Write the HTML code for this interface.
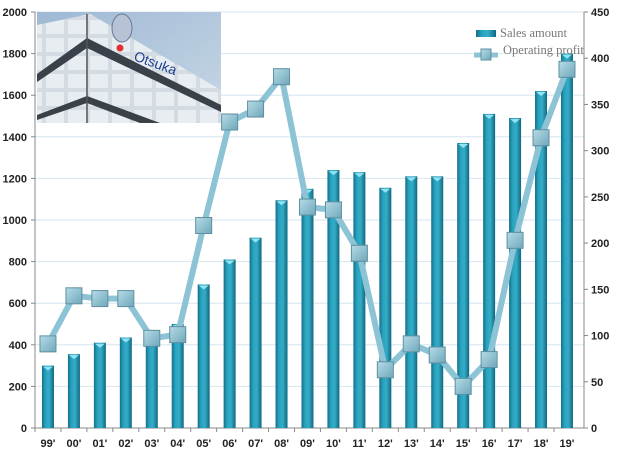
<!DOCTYPE html>
<html><head><meta charset="utf-8"><style>
html,body{margin:0;padding:0;background:#fff;width:620px;height:456px;overflow:hidden}
text{font-family:"Liberation Sans",sans-serif}
</style></head><body>
<svg id="s" width="620" height="456" xmlns="http://www.w3.org/2000/svg">
<defs>
<linearGradient id="bar" x1="0" x2="1" y1="0" y2="0">
<stop offset="0" stop-color="#13708a"/><stop offset="0.3" stop-color="#2aa3bf"/><stop offset="0.6" stop-color="#34acc6"/><stop offset="1" stop-color="#0f6781"/>
</linearGradient>
<linearGradient id="mk" x1="0" x2="1" y1="0" y2="1">
<stop offset="0" stop-color="#b6dbe6"/><stop offset="1" stop-color="#6fa8bb"/>
</linearGradient>
<linearGradient id="sky" x1="0" x2="1" y1="0" y2="1">
<stop offset="0" stop-color="#9fb9d4"/><stop offset="1" stop-color="#c7d7e6"/>
</linearGradient>
<pattern id="win" width="22" height="18" patternUnits="userSpaceOnUse">
<rect width="22" height="18" fill="#d4dbe2"/><rect x="2" y="2" width="18" height="14" fill="#e8edf1"/>
</pattern>
</defs>
<g id="g"></g>
</svg>
<script>
const g=document.getElementById('g');let h='';
const L=35,R=584,T=12,B=428,n=21,w=25.95;
const sales=[300,355,410,435,450,500,690,810,915,1095,1150,1240,1230,1155,1210,1210,1370,1510,1490,1620,1800];
const op=[91,143,140,140,97,101,219,331,345,380,239,236,189,63,91,79,45,74,203,314,388];
const labs=["99'","00'","01'","02'","03'","04'","05'","06'","07'","08'","09'","10'","11'","12'","13'","14'","15'","16'","17'","18'","19'"];
for(let i=0;i<=10;i++){const y=B-i*(B-T)/10;
 if(i>0)h+=`<line x1="${L}" x2="${R}" y1="${y}" y2="${y}" stroke="#d6e6ef" stroke-width="1"/>`;
 h+=`<line x1="${L-4}" x2="${L}" y1="${y}" y2="${y}" stroke="#888"/>`;
 h+=`<text x="${L-8}" y="${y+4}" text-anchor="end" font-size="11" font-weight="bold" fill="#222">${i*200}</text>`;}
for(let i=0;i<=9;i++){const y=B-i*(B-T)/9;
 h+=`<line x1="${R}" x2="${R+4}" y1="${y}" y2="${y}" stroke="#888"/>`;
 h+=`<text x="${R+7}" y="${y+4}" font-size="11" font-weight="bold" fill="#222">${i*50}</text>`;}
h+=`<line x1="${L}" x2="${L}" y1="${T}" y2="${B}" stroke="#888"/><line x1="${R}" x2="${R}" y1="${T}" y2="${B}" stroke="#888"/><line x1="${L}" x2="${R}" y1="${B}" y2="${B}" stroke="#888"/>`;
// photo
h+=`<rect x="37" y="12" width="184" height="111" fill="url(#sky)"/>
<polygon points="37,25 90,14 221,90 221,123 37,123" fill="url(#win)"/>
<polygon points="37,74 87,38 221,105 221,112 87,48 37,82" fill="#3b4148"/>
<polygon points="37,115 87,96 160,123 140,123 87,103 37,120" fill="#3b4148"/>
<line x1="87" y1="14" x2="87" y2="123" stroke="#555" stroke-width="1.5"/>
<ellipse cx="122" cy="28" rx="10" ry="14" fill="#b8c2d6" stroke="#6b7894"/>
<circle cx="120" cy="48" r="3.5" fill="#e23030"/>
<text x="133" y="60" font-size="14" fill="#1f3f8f" transform="rotate(20 133 60)">Otsuka</text>`;
for(let i=0;i<n;i++){const cx=L+w*(i+.5);
 h+=`<line x1="${L+w*i}" x2="${L+w*i}" y1="${B}" y2="${B+4}" stroke="#888"/>`;
 const y=B-sales[i]*(B-T)/2000,bw=12;
 h+=`<rect x="${cx-bw/2}" y="${y}" width="${bw}" height="${B-y}" fill="url(#bar)"/>`;
 h+=`<polygon points="${cx-bw/2+1},${y+1} ${cx+bw/2-1},${y+1} ${cx},${y+5}" fill="#8fe3f2"/>`;
 h+=`<text x="${cx}" y="${B+19}" text-anchor="middle" font-size="11" font-weight="bold" fill="#222">${labs[i]}</text>`;}
let pts=op.map((v,i)=>`${L+w*(i+.5)},${B-v*(B-T)/450}`).join(' ');
h+=`<polyline points="${pts}" fill="none" stroke="#8cc3d5" stroke-width="6" stroke-linejoin="round"/>`;
op.forEach((v,i)=>{const x=L+w*(i+.5),y=B-v*(B-T)/450;
 h+=`<rect x="${x-8}" y="${y-8}" width="16" height="16" fill="url(#mk)" stroke="#5f8fa0" stroke-width="1"/>`;});
// legend
h+=`<rect x="476" y="30" width="20" height="7" fill="url(#bar)"/>
<text x="500" y="37" font-size="12.5" fill="#777" style="font-family:'Liberation Serif',serif">Sales amount</text>
<line x1="474" y1="55" x2="498" y2="55" stroke="#8cc3d5" stroke-width="5"/>
<rect x="481" y="49" width="10" height="11" fill="url(#mk)" stroke="#5f8fa0"/>
<text x="503" y="54" font-size="12.5" fill="#777" style="font-family:'Liberation Serif',serif">Operating profit</text>`;
g.innerHTML=h;
</script>
</body></html>
